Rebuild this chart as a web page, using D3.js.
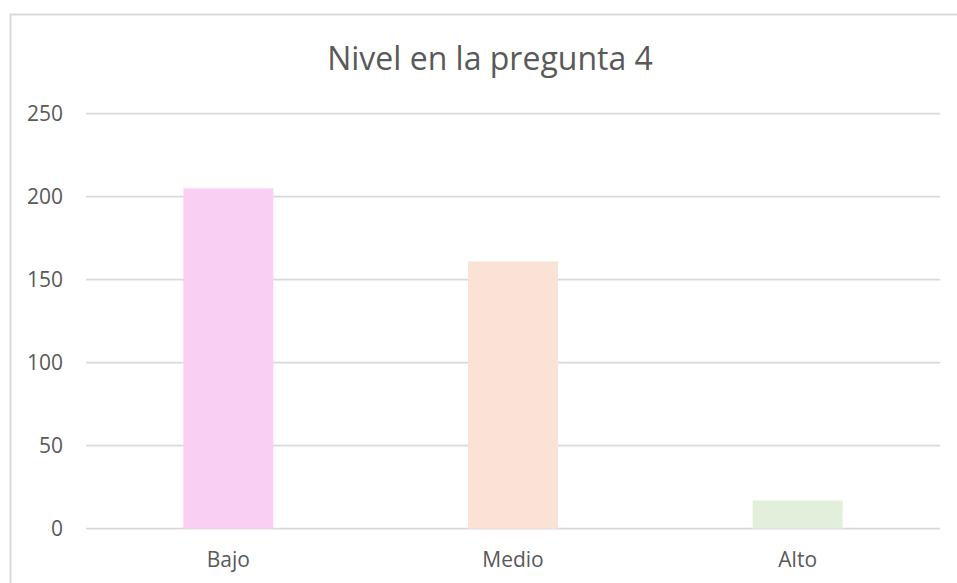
<!DOCTYPE html>
<meta charset="utf-8">
<script src="https://d3js.org/d3.v7.min.js"></script>
<style>
  body { margin: 0; background: #fff; }
  text { font-family: "Open Sans", sans-serif; fill: #595959; }
</style>
<body>
<div id="chart"></div>
<script>
  // data
  var categories = ["Bajo", "Medio", "Alto"]
  var values = [205, 161, 17]
  var colors = ["#f9d0f3", "#fae3d6", "#e2efda"]
  var yTicks = [0, 50, 100, 150, 200, 250]
  var title = "Nivel en la pregunta 4"

  var width = 957,
      height = 583

  var svg = d3.select("#chart")
    .append("svg")
    .attr("width", width)
    .attr("height", height)

  // outer chart border (right and bottom fall outside the picture)
  svg.append("rect")
    .attr("x", 10.5)
    .attr("y", 14.5)
    .attr("width", 960)
    .attr("height", 590)
    .attr("fill", "none")
    .attr("stroke", "#d9d9d9")
    .attr("stroke-width", 2)

  var x = d3.scaleBand()
    .domain(categories)
    .range([86, 940])
    .paddingInner(0.684)
    .paddingOuter(0.342)

  var y = d3.scaleLinear()
    .domain([0, 250])
    .range([528.7, 113.7])

  // gridlines
  svg.append("g")
    .selectAll("line")
    .data(yTicks)
    .enter()
    .append("line")
    .attr("x1", 86)
    .attr("x2", 940)
    .attr("y1", function(d) { return y(d) })
    .attr("y2", function(d) { return y(d) })
    .attr("stroke", "#d9d9d9")
    .attr("stroke-width", 1.8)

  // y tick labels
  svg.append("g")
    .selectAll("text")
    .data(yTicks)
    .enter()
    .append("text")
    .attr("x", 63)
    .attr("y", function(d) { return y(d) })
    .attr("dy", "0.36em")
    .attr("text-anchor", "end")
    .style("font-size", "21px")
    .text(function(d) { return d })

  // bars
  svg.append("g")
    .selectAll("rect")
    .data(values)
    .enter()
    .append("rect")
    .attr("x", function(d, i) { return x(categories[i]) })
    .attr("width", x.bandwidth())
    .attr("y", function(d) { return y(d) })
    .attr("height", function(d) { return y(0) - y(d) })
    .attr("fill", function(d, i) { return colors[i] })

  // category labels
  svg.append("g")
    .selectAll("text")
    .data(categories)
    .enter()
    .append("text")
    .attr("x", function(d) { return x(d) + x.bandwidth() / 2 })
    .attr("y", 567)
    .attr("text-anchor", "middle")
    .style("font-size", "21px")
    .text(function(d) { return d })

  // title
  svg.append("text")
    .attr("x", 490)
    .attr("y", 70)
    .attr("text-anchor", "middle")
    .style("font-size", "32px")
    .text(title)
</script>
</body>
